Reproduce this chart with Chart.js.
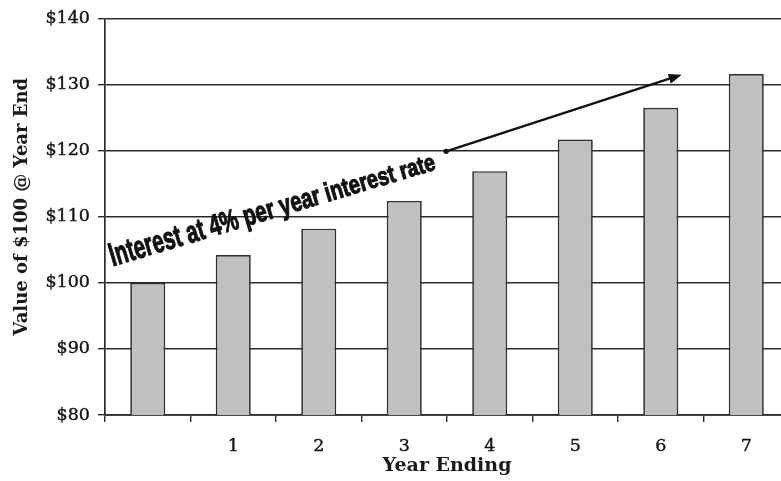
<!DOCTYPE html>
<html>
<head>
<meta charset="utf-8">
<script src="https://cdn.jsdelivr.net/npm/chart.js@4.4.1/dist/chart.umd.min.js"></script>
<style>
  html, body { margin: 0; padding: 0; background: #fff; overflow: hidden; }
  #wrap { width: 800px; height: 481px; }
</style>
</head>
<body>
<div id="wrap"><canvas id="c" width="800" height="481"></canvas></div>
<script>
// Year-end value of $100 growing at 4% a year
const yearLabels = ['', '1', '2', '3', '4', '5', '6', '7'];
const yearEndValues = [100, 104.2, 108.2, 112.4, 116.9, 121.7, 126.5, 131.6];
const yTicks = [80, 90, 100, 110, 120, 130, 140];
const yTitle = 'Value of $100 @ Year End';
const xTitle = 'Year Ending';

// Slanted caption and its arrow, anchored in data units (category index, dollars)
const captionText = 'Interest at 4% per year interest rate';
const captionFrom = { x: -0.41, y: 102.5 };
const captionTo = { x: 3.38, y: 117.2 };
const arrowFrom = { x: 3.49, y: 119.9 };
const arrowTo = { x: 6.245, y: 131.5 };

const ink = '#2b2b2b';
const serif = '"DejaVu Serif", "Liberation Serif", serif';

// Vertical axis title, set a little above the middle of the plot
const yTitlePlugin = {
  id: 'yTitle',
  afterDraw(chart) {
    const { ctx, chartArea } = chart;
    ctx.save();
    ctx.translate(22, (chartArea.top + chartArea.bottom) / 2 - 10);
    ctx.rotate(-Math.PI / 2);
    ctx.font = 'bold 18px ' + serif;
    ctx.fillStyle = '#1a1a1a';
    ctx.textAlign = 'center';
    ctx.textBaseline = 'middle';
    ctx.fillText(yTitle, 0, 0);
    ctx.restore();
  }
};

const captionPlugin = {
  id: 'caption',
  afterDatasetsDraw(chart) {
    const { ctx, scales: { x, y } } = chart;
    const px = p => ({ x: x.getPixelForValue(p.x), y: y.getPixelForValue(p.y) });

    // caption: condensed heavy sans in perspective, large at the start and smaller at the end
    const a = px(captionFrom), b = px(captionTo);
    const angle = Math.atan2(b.y - a.y, b.x - a.x);
    const len = Math.hypot(b.x - a.x, b.y - a.y);
    const chars = Array.from(captionText);
    const n = chars.length - 1;
    const s0 = 33, s1 = 24;     // font size at start / end
    const c0 = 0.64, c1 = 0.84; // relative horizontal squeeze at start / end
    const sizes = chars.map((_, i) => s0 + (s1 - s0) * i / n);
    const squeeze = chars.map((_, i) => c0 + (c1 - c0) * i / n);
    const fontOf = i => 'bold ' + sizes[i] + 'px "Liberation Sans", Arial, sans-serif';
    ctx.save();
    const widths = chars.map((ch, i) => { ctx.font = fontOf(i); return ctx.measureText(ch).width * squeeze[i]; });
    const total = widths.reduce((s, w) => s + w, 0);
    const k = len / total;
    ctx.translate(a.x, a.y);
    ctx.rotate(angle);
    ctx.fillStyle = '#111';
    ctx.strokeStyle = '#111';
    ctx.lineJoin = 'round';
    ctx.textBaseline = 'alphabetic';
    let cx = 0;
    chars.forEach((ch, i) => {
      ctx.save();
      ctx.translate(cx, 0);
      ctx.scale(k * squeeze[i], 1);
      ctx.font = fontOf(i);
      ctx.lineWidth = 1.1;
      ctx.strokeText(ch, 0, 0);
      ctx.fillText(ch, 0, 0);
      ctx.restore();
      cx += widths[i] * k;
    });
    ctx.restore();

    // arrow with a dot at its tail
    const p = px(arrowFrom), q = px(arrowTo);
    const ang = Math.atan2(q.y - p.y, q.x - p.x);
    const head = 13, half = 5;
    ctx.save();
    ctx.strokeStyle = '#111';
    ctx.fillStyle = '#111';
    ctx.lineWidth = 2.3;
    ctx.beginPath();
    ctx.arc(p.x, p.y, 2.7, 0, Math.PI * 2);
    ctx.fill();
    ctx.beginPath();
    ctx.moveTo(p.x, p.y);
    ctx.lineTo(q.x - Math.cos(ang) * head * 0.8, q.y - Math.sin(ang) * head * 0.8);
    ctx.stroke();
    ctx.translate(q.x, q.y);
    ctx.rotate(ang);
    ctx.beginPath();
    ctx.moveTo(0, 0);
    ctx.lineTo(-head, -half);
    ctx.lineTo(-head, half);
    ctx.closePath();
    ctx.fill();
    ctx.restore();
  }
};

new Chart(document.getElementById('c'), {
  type: 'bar',
  data: {
    labels: yearLabels,
    datasets: [{
      data: yearEndValues,
      backgroundColor: '#c0c0c0',
      borderColor: '#2e2e2e',
      borderWidth: 1.7,
      borderSkipped: 'bottom',
      categoryPercentage: 1,
      barPercentage: 0.41
    }]
  },
  options: {
    responsive: false,
    devicePixelRatio: 1,
    animation: false,
    layout: { padding: { left: 0, top: 15, right: 11, bottom: 0 } },
    plugins: { legend: { display: false }, tooltip: { enabled: false } },
    scales: {
      x: {
        grid: { display: true, drawOnChartArea: false, drawTicks: true, tickLength: 7, color: ink, lineWidth: 1.4 },
        border: { display: true, color: ink, width: 1.7 },
        ticks: { color: '#151515', font: { family: serif, size: 17.5 }, padding: 14, maxRotation: 0, textStrokeColor: '#151515', textStrokeWidth: 0.4 },
        title: { display: true, text: xTitle, color: '#1a1a1a', font: { family: serif, size: 19, weight: 'bold' }, padding: { top: 0, bottom: 4 } },
        afterFit(scale) { scale.height = 66; }
      },
      y: {
        min: 80,
        max: 140,
        afterBuildTicks(scale) { scale.ticks = yTicks.map(v => ({ value: v })); },
        grid: { color: ink, lineWidth: 1.4, drawTicks: true, tickLength: 7 },
        border: { display: true, color: ink, width: 1.7 },
        ticks: { color: '#151515', font: { family: serif, size: 17.5 }, padding: 8, textStrokeColor: '#151515', textStrokeWidth: 0.4, callback: v => '$' + v },
        title: { display: false },
        afterFit(scale) { scale.width = 105; }
      }
    }
  },
  plugins: [captionPlugin, yTitlePlugin]
});
</script>
</body>
</html>
